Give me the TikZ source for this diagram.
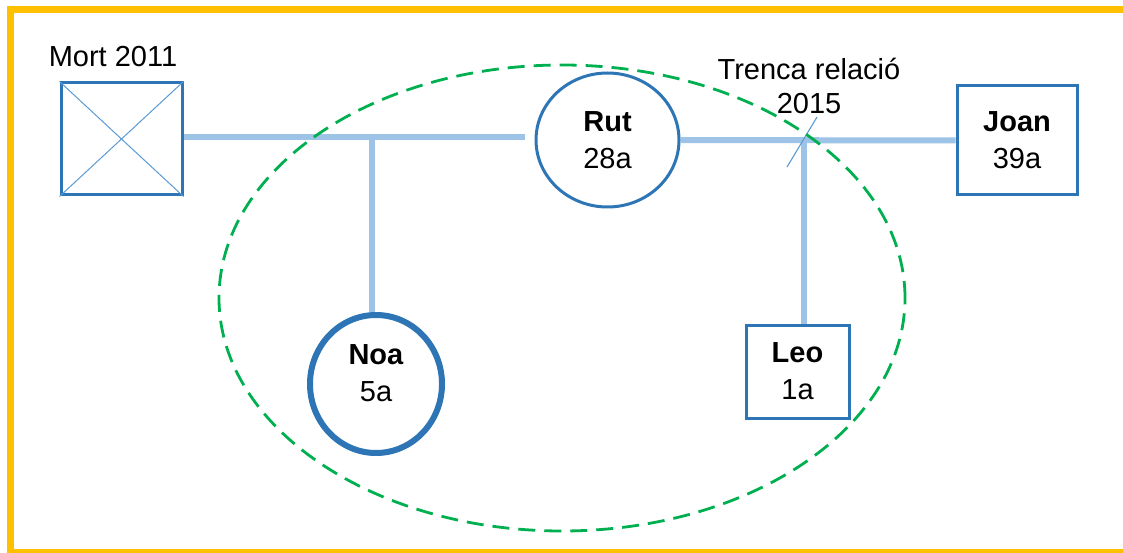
\documentclass[tikz,border=0pt]{standalone}
\usepackage{fontspec}
\setmainfont{Liberation Sans}
\usetikzlibrary{shapes.geometric,backgrounds}
\definecolor{frameyellow}{HTML}{FFC000}
\definecolor{boxblue}{HTML}{2E75B6}
\definecolor{linkblue}{HTML}{9DC3E6}
\definecolor{thinblue}{HTML}{5B9BD5}
\definecolor{groupgreen}{HTML}{00B050}
\tikzset{
  txt/.style={font=\fontsize{29}{37}\selectfont, align=center, inner sep=0pt},
  malebox/.style={txt, draw=boxblue, line width=3pt, fill=white, rectangle},
  femalecirc/.style={txt, draw=boxblue, line width=3pt, fill=white, ellipse},
  link/.style={draw=linkblue, line width=6pt},
  breakmark/.style={draw=thinblue, line width=1.1pt},
  household/.style={draw=groupgreen, line width=2.8pt, dash pattern=on 17pt off 9pt}
}
\begin{document}
\begin{tikzpicture}[x=1pt,y=-1pt]
\useasboundingbox (0,0) rectangle (1123,553);
% frame
\fill[frameyellow] (7,6) rectangle (14,553);
\fill[frameyellow] (7,6) rectangle (1123,13);
\fill[frameyellow] (7,549) rectangle (1123,553);

% coordinates for connectors
\coordinate (m1) at (525,137);
\coordinate (n1) at (372,137);
\coordinate (b1) at (804,141);
\coordinate (s1) at (787,167);
\coordinate (s2) at (817,117);

% nodes
\node[malebox, minimum width=121pt, minimum height=112pt] (mort) at (121.5,139) {};
\node[femalecirc, minimum width=143pt, minimum height=134pt] (rut) at (607.5,140) {\textbf{Rut}\\28a};
\node[malebox, minimum width=120pt, minimum height=109pt] (joan) at (1017,140.5) {\textbf{Joan}\\39a};
\node[femalecirc, line width=6pt, minimum width=132pt, minimum height=138pt, text depth=22pt] (noa) at (376,384) {\textbf{Noa}\\5a};
\node[malebox, minimum width=103pt, minimum height=93pt] (leo) at (797.5,371.5) {\textbf{Leo}\\1a};

\node[txt] (mortlbl) at (113,57) {Mort 2011};
\node[txt, font=\fontsize{29}{34}\selectfont] (trenca) at (809,86) {Trenca relació\\2015};

% deceased cross
\draw[thinblue, line width=1pt] (mort.north west) -- (mort.south east);
\draw[thinblue, line width=1pt] (mort.south west) -- (mort.north east);

% connectors (behind the nodes)
\begin{scope}[on background layer]
\path[link] (mort.east |- m1) -- (m1);
\path[link] (n1) -- (n1 |- noa.north);
\path[link] (rut.east) -- (joan.west);
\path[link] (b1) -- (b1 |- leo.north);
\end{scope}
\path[breakmark] (s1) -- (s2);

% household
\draw[household] (562,298) ellipse [x radius=343pt, y radius=233pt];
\end{tikzpicture}
\end{document}
